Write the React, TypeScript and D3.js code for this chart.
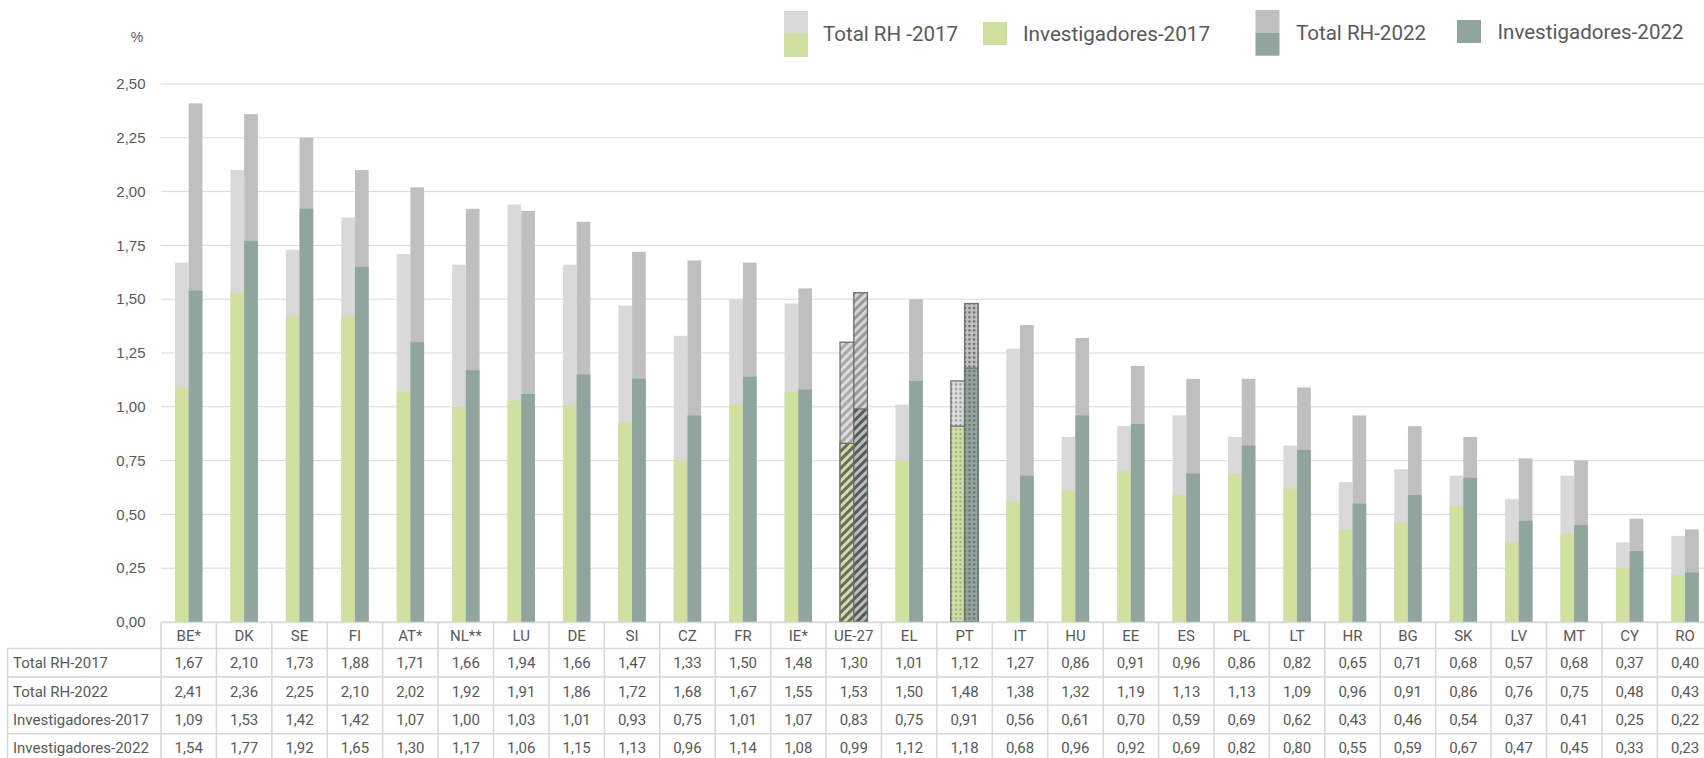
import React from "react";
import * as d3 from "d3";

const categories = ["BE*", "DK", "SE", "FI", "AT*", "NL**", "LU", "DE", "SI", "CZ", "FR", "IE*", "UE-27", "EL", "PT", "IT", "HU", "EE", "ES", "PL", "LT", "HR", "BG", "SK", "LV", "MT", "CY", "RO"];
const total2017 = [1.67, 2.10, 1.73, 1.88, 1.71, 1.66, 1.94, 1.66, 1.47, 1.33, 1.50, 1.48, 1.30, 1.01, 1.12, 1.27, 0.86, 0.91, 0.96, 0.86, 0.82, 0.65, 0.71, 0.68, 0.57, 0.68, 0.37, 0.40];
const total2022 = [2.41, 2.36, 2.25, 2.10, 2.02, 1.92, 1.91, 1.86, 1.72, 1.68, 1.67, 1.55, 1.53, 1.50, 1.48, 1.38, 1.32, 1.19, 1.13, 1.13, 1.09, 0.96, 0.91, 0.86, 0.76, 0.75, 0.48, 0.43];
const inv2017 = [1.09, 1.53, 1.42, 1.42, 1.07, 1.00, 1.03, 1.01, 0.93, 0.75, 1.01, 1.07, 0.83, 0.75, 0.91, 0.56, 0.61, 0.70, 0.59, 0.69, 0.62, 0.43, 0.46, 0.54, 0.37, 0.41, 0.25, 0.22];
const inv2022 = [1.54, 1.77, 1.92, 1.65, 1.30, 1.17, 1.06, 1.15, 1.13, 0.96, 1.14, 1.08, 0.99, 1.12, 1.18, 0.68, 0.96, 0.92, 0.69, 0.82, 0.80, 0.55, 0.59, 0.67, 0.47, 0.45, 0.33, 0.23];
const yTicks = [0, 0.25, 0.5, 0.75, 1.0, 1.25, 1.5, 1.75, 2.0, 2.25, 2.5];
const rowLabels = ["Total RH-2017", "Total RH-2022", "Investigadores-2017", "Investigadores-2022"];
const legendLabels = ["Total RH -2017", "Investigadores-2017", "Total RH-2022", "Investigadores-2022"];
const hatchedCats = ["UE-27"];
const dottedCats = ["PT"];

const W = 1704;
const H = 758;
const C_T17 = "#d9d9d9";
const C_I17 = "#d0e09f";
const C_T22 = "#bfbfbf";
const C_I22 = "#8fa59e";
const TXT = "#595959";
const GRID = "#d9d9d9";

const fmt = (v: number) => v.toFixed(2).replace(".", ",");

export default function App() {
  const plotLeft = 161;
  const colW = 55.42;
  const x = d3.scaleBand<string>().domain(categories).range([plotLeft, plotLeft + colW * categories.length]).paddingInner(0).paddingOuter(0);
  const y = d3.scaleLinear().domain([0, 2.5]).range([622, 84]);
  const bw = 13.7;

  const tableTop = 622.5;
  const headerH = 26;
  const rowH = 28.4;
  const tableLeft = 7.5;
  const rowsData = [total2017, total2022, inv2017, inv2022];

  const fillFor = (cat: string, kind: "t17" | "i17" | "t22" | "i22") => {
    if (hatchedCats.includes(cat)) return `url(#hatch-${kind})`;
    if (dottedCats.includes(cat)) return `url(#dot-${kind})`;
    return { t17: C_T17, i17: C_I17, t22: C_T22, i22: C_I22 }[kind];
  };
  const special = (cat: string) => hatchedCats.includes(cat) || dottedCats.includes(cat);

  const hatchDefs = [
    { k: "t17", base: "#dcdcdc", stripe: "#a8a8a8" },
    { k: "i17", base: "#d0e09f", stripe: "#6a6a6a" },
    { k: "t22", base: "#d6d6d6", stripe: "#9a9a9a" },
    { k: "i22", base: "#b3c2bd", stripe: "#595959" },
  ];
  const dotDefs = [
    { k: "t17", base: "#dcdcdc", dot: "#8c8c8c" },
    { k: "i17", base: "#d0e09f", dot: "#8fa59e" },
    { k: "t22", base: "#bfbfbf", dot: "#5a5a5a" },
    { k: "i22", base: "#8fa59e", dot: "#666666" },
  ];

  const legendFont = "Roboto, 'Liberation Sans', sans-serif";
  const sw = 24;

  return (
    <svg width={W} height={H} style={{ position: "absolute", left: 0, top: 0, background: "#fff" }} fontFamily="Roboto, 'Liberation Sans', sans-serif">
      <defs>
        {hatchDefs.map((h) => (
          <pattern key={h.k} id={`hatch-${h.k}`} patternUnits="userSpaceOnUse" width={6} height={6} patternTransform="rotate(45)">
            <rect width={6} height={6} fill={h.base} />
            <rect width={3} height={6} fill={h.stripe} />
          </pattern>
        ))}
        {dotDefs.map((d) => (
          <pattern key={d.k} id={`dot-${d.k}`} patternUnits="userSpaceOnUse" width={4.5} height={4.5}>
            <rect width={4.5} height={4.5} fill={d.base} />
            <rect x={1} y={1} width={2} height={2} fill={d.dot} />
          </pattern>
        ))}
      </defs>

      {/* gridlines */}
      {yTicks.map((t) => (
        <line key={t} x1={plotLeft} x2={W} y1={y(t)} y2={y(t)} stroke={GRID} strokeWidth={1} />
      ))}
      {/* y tick labels */}
      {yTicks.map((t) => (
        <text key={`l${t}`} x={145.5} y={y(t)} dy="0.35em" textAnchor="end" fontSize={15} fill={TXT} fontFamily="'Liberation Sans', Arial, sans-serif">
          {fmt(t)}
        </text>
      ))}
      <text x={137} y={37} dy="0.35em" textAnchor="middle" fontSize={14} fill={TXT} fontFamily="'Liberation Sans', Arial, sans-serif">%</text>

      {/* bars */}
      {categories.map((c, i) => {
        const cx = (x(c) as number) + x.bandwidth() / 2;
        const sp = special(c);
        const stroke = sp ? "#6e6e6e" : "none";
        const swd = sp ? 1.3 : 0;
        return (
          <g key={c}>
            <rect x={cx - bw} y={y(total2017[i])} width={bw} height={y(0) - y(total2017[i])} fill={fillFor(c, "t17")} stroke={stroke} strokeWidth={swd} />
            <rect x={cx - bw} y={y(inv2017[i])} width={bw} height={y(0) - y(inv2017[i])} fill={fillFor(c, "i17")} stroke={stroke} strokeWidth={swd} />
            <rect x={cx} y={y(total2022[i])} width={bw} height={y(0) - y(total2022[i])} fill={fillFor(c, "t22")} stroke={stroke} strokeWidth={swd} />
            <rect x={cx} y={y(inv2022[i])} width={bw} height={y(0) - y(inv2022[i])} fill={fillFor(c, "i22")} stroke={stroke} strokeWidth={swd} />
          </g>
        );
      })}

      {/* table */}
      <g>
        <line x1={plotLeft} x2={W} y1={tableTop} y2={tableTop} stroke={GRID} strokeWidth={1.6} />
        {[0, 1, 2, 3, 4].map((r) => {
          const yy = tableTop + headerH + r * rowH;
          return <line key={`h${r}`} x1={tableLeft} x2={W} y1={yy} y2={yy} stroke={GRID} strokeWidth={1.6} />;
        })}
        <line x1={tableLeft} x2={tableLeft} y1={tableTop + headerH} y2={H + 5} stroke={GRID} strokeWidth={1.6} />
        {categories.map((c) => (
          <line key={`v${c}`} x1={x(c) as number} x2={x(c) as number} y1={tableTop} y2={H + 5} stroke={GRID} strokeWidth={1.6} />
        ))}
        <line x1={x.range()[1]} x2={x.range()[1]} y1={tableTop} y2={H + 5} stroke={GRID} strokeWidth={1.6} />
        {categories.map((c) => (
          <text key={`c${c}`} x={(x(c) as number) + x.bandwidth() / 2} y={tableTop + headerH / 2} dy="0.36em" textAnchor="middle" fontSize={15} fill={TXT}>
            {c}
          </text>
        ))}
        {rowLabels.map((lab, r) => {
          const cy = tableTop + headerH + r * rowH + rowH / 2;
          return (
            <g key={lab}>
              <text x={13} y={cy} dy="0.36em" fontSize={15} fill={TXT}>{lab}</text>
              {categories.map((c, i) => (
                <text key={c} x={(x(c) as number) + x.bandwidth() / 2} y={cy} dy="0.36em" textAnchor="middle" fontSize={15} fill={TXT}>
                  {fmt(rowsData[r][i])}
                </text>
              ))}
            </g>
          );
        })}
      </g>

      {/* legend */}
      <g fontFamily={legendFont} fill={TXT}>
        <rect x={784} y={11} width={sw} height={22} fill={C_T17} />
        <rect x={784} y={33} width={sw} height={24} fill={C_I17} />
        <text x={823} y={33.5} dy="0.35em" fontSize={20} textLength={135} lengthAdjust="spacingAndGlyphs">{legendLabels[0]}</text>

        <rect x={983} y={22} width={sw} height={23} fill={C_I17} />
        <text x={1023} y={33.5} dy="0.35em" fontSize={20} textLength={187} lengthAdjust="spacingAndGlyphs">{legendLabels[1]}</text>

        <rect x={1255.5} y={10} width={sw} height={22.7} fill={C_T22} />
        <rect x={1255.5} y={32.7} width={sw} height={23} fill={C_I22} />
        <text x={1296} y={33} dy="0.35em" fontSize={20} textLength={130} lengthAdjust="spacingAndGlyphs">{legendLabels[2]}</text>

        <rect x={1457} y={20} width={sw} height={23} fill={C_I22} />
        <text x={1497.5} y={31.5} dy="0.35em" fontSize={20} textLength={186} lengthAdjust="spacingAndGlyphs">{legendLabels[3]}</text>
      </g>
    </svg>
  );
}
